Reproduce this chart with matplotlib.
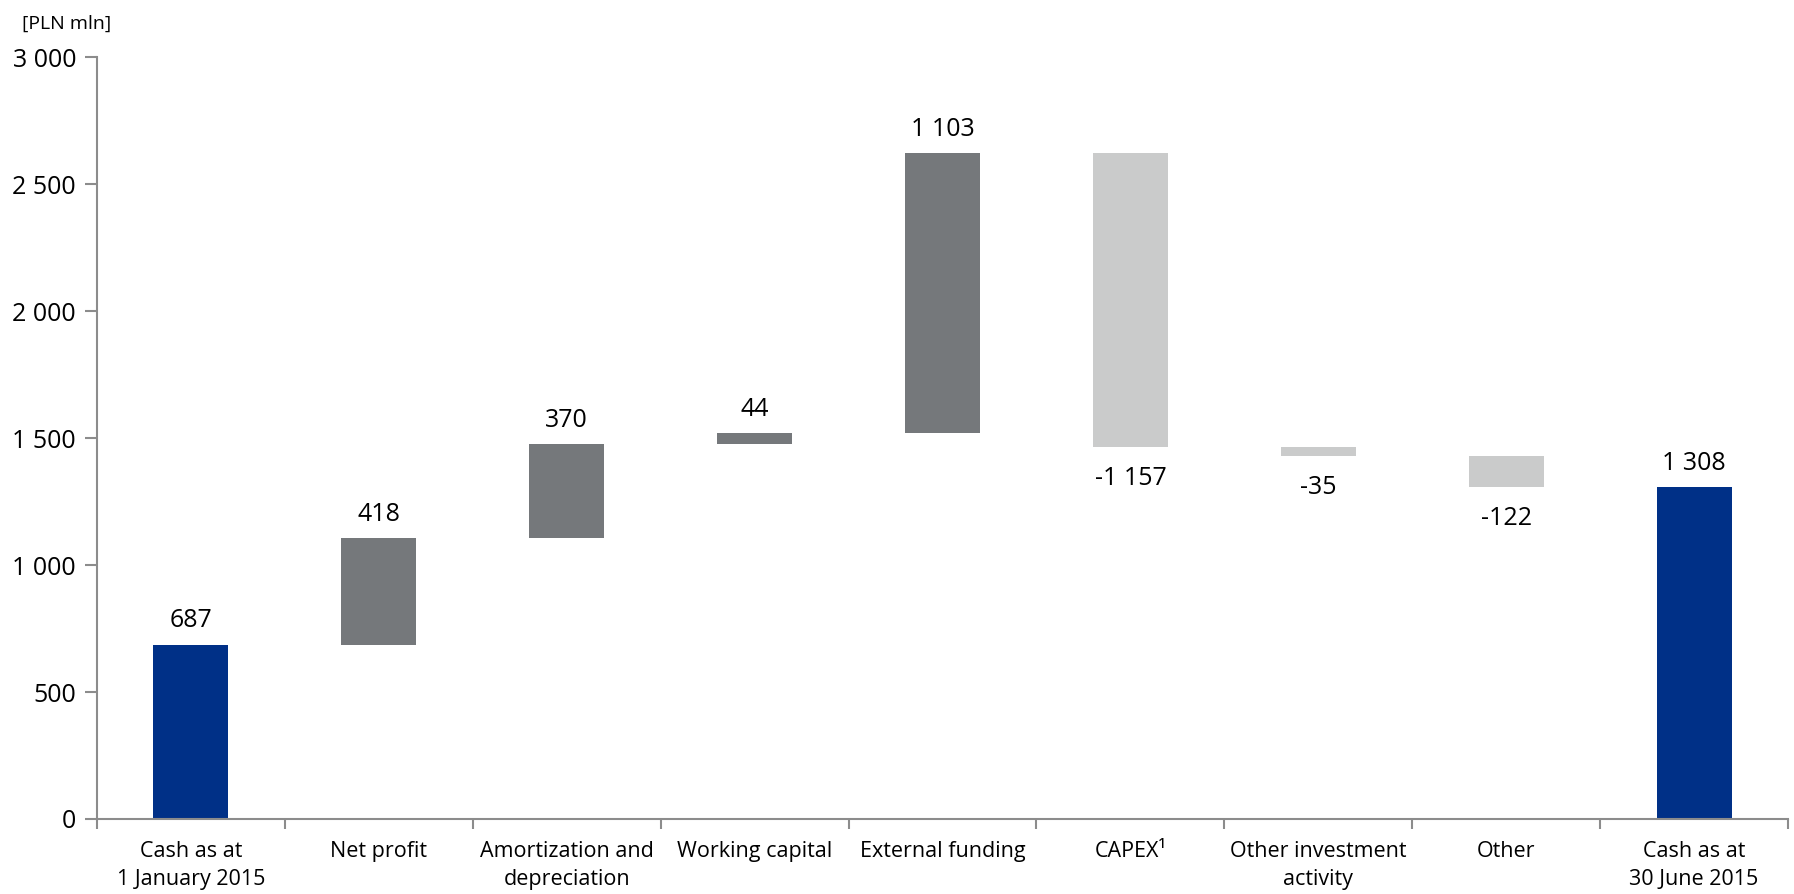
import matplotlib
matplotlib.use("Agg")
import matplotlib.pyplot as plt
import numpy as np

categories = ["Cash as at\n1 January 2015", "Net profit", "Amortization and\ndepreciation",
              "Working capital", "External funding", "CAPEX¹", "Other investment\nactivity",
              "Other", "Cash as at\n30 June 2015"]
values = [687, 418, 370, 44, 1103, -1157, -35, -122, 1308]
kinds = ["total", "delta", "delta", "delta", "delta", "delta", "delta", "delta", "total"]
labels = ["687", "418", "370", "44", "1 103", "-1 157", "-35", "-122", "1 308"]
yticks = [0, 500, 1000, 1500, 2000, 2500, 3000]
ytick_labels = ["0", "500", "1 000", "1 500", "2 000", "2 500", "3 000"]

BLUE = "#003087"
DARK = "#75787b"
LIGHT = "#cacbcb"
AXC = "#8c8c8c"

plt.rcParams['font.family'] = ['Open Sans', 'DejaVu Sans']

fig = plt.figure(figsize=(17.94, 8.94), dpi=100)
ax = fig.add_axes([0.054, 0.0839, 0.9427, 0.8523])

running = 0
x = np.arange(len(categories))
for i, (v, k, lab) in enumerate(zip(values, kinds, labels)):
    if k == "total":
        bottom, height, color = 0, v, BLUE
        running = v
    else:
        if v >= 0:
            bottom, height, color = running, v, DARK
        else:
            bottom, height, color = running + v, -v, LIGHT
        running += v
    ax.bar(x[i], height, bottom=bottom, width=0.4, color=color)
    if v >= 0:
        ax.annotate(lab, (x[i], bottom + height), xytext=(0, 8), textcoords="offset points",
                    ha="center", va="bottom", fontsize=18)
    else:
        ax.annotate(lab, (x[i], bottom), xytext=(0, -14), textcoords="offset points",
                    ha="center", va="top", fontsize=18)

ax.set_xlim(-0.5, len(categories) - 0.5)
ax.set_ylim(0, 3000)
ax.set_yticks(yticks)
ax.set_yticklabels(ytick_labels, fontsize=18)
ax.set_xticks(x)
ax.set_xticklabels(categories, fontsize=15.5, linespacing=1.45)
ax.tick_params(axis="x", which="major", length=0, pad=16)
ax.set_xticks(np.arange(-0.5, len(categories), 1.0), minor=True)
ax.tick_params(axis="x", which="minor", length=7, color=AXC, width=1.5, direction="out")
ax.tick_params(axis="y", length=9, color=AXC, width=1.5, pad=6)

for s in ["top", "right"]:
    ax.spines[s].set_visible(False)
for s in ["left", "bottom"]:
    ax.spines[s].set_color(AXC)
    ax.spines[s].set_linewidth(1.5)

fig.text(0.012, 0.983, "[PLN mln]", fontsize=14, ha="left", va="top")

fig.savefig("out.png", dpi=100)
